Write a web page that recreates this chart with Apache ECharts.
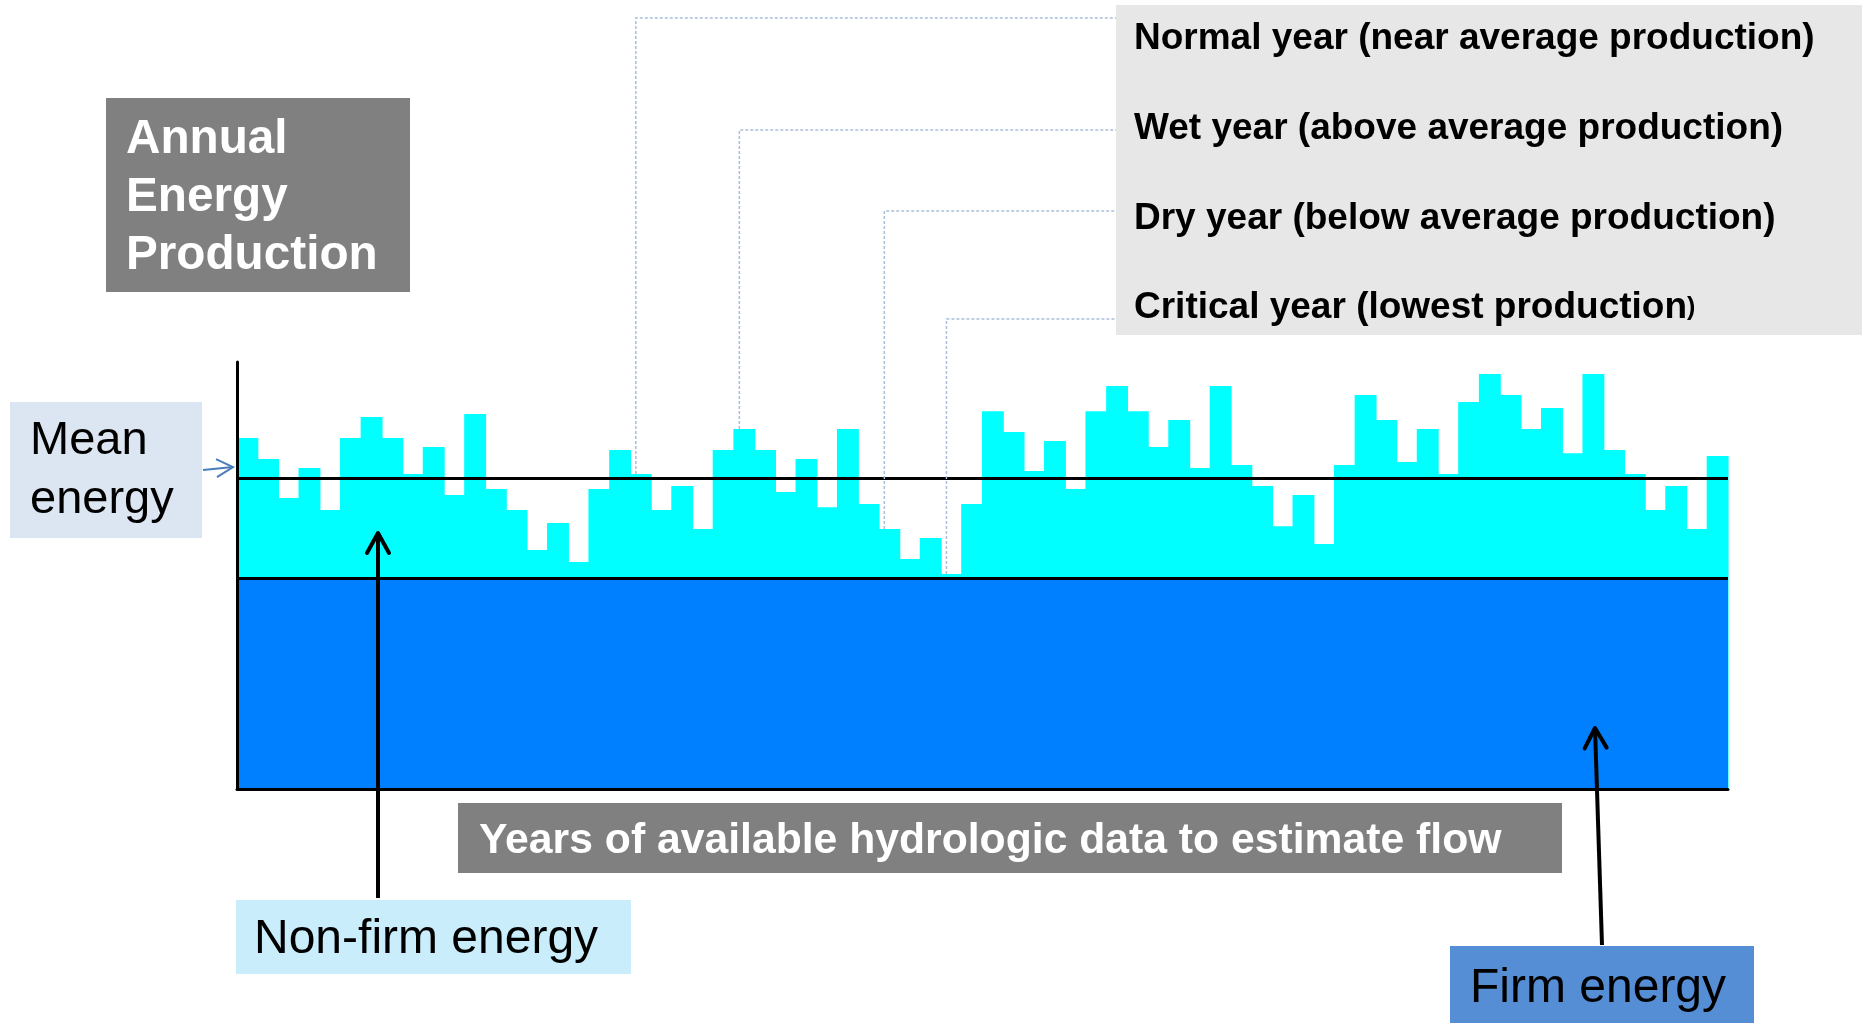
<!DOCTYPE html>
<html>
<head>
<meta charset="utf-8">
<title>Annual Energy Production</title>
<script src="https://cdn.jsdelivr.net/npm/echarts@6/dist/echarts.min.js"></script>
<style>
  html, body { margin: 0; padding: 0; background: #fff; }
  #chart { width: 1862px; height: 1023px; }
</style>
</head>
<body>
<div id="chart"></div>
<script>
// total annual energy per year of hydrologic record (arbitrary units, firm = 100)
const totalEnergy = [
  166.4, 156.4, 137.9, 152.1, 132.2, 166.4, 176.3, 166.4, 149.3, 162.1,
  139.3, 177.7, 142.2, 132.2, 113.3, 126.1, 107.6, 142.2, 160.7, 149.3,
  132.2, 143.6, 123.2, 160.7, 170.6, 160.7, 140.8, 156.4, 133.6, 170.6,
  135.1, 123.2, 109.0, 119.0, 101.9, 135.1, 179.1, 169.2, 150.7, 164.9,
  142.2, 179.1, 191.0, 179.1, 162.1, 174.9, 152.1, 191.0, 153.6, 143.6,
  124.6, 139.3, 116.1, 153.6, 186.7, 174.9, 155.0, 170.6, 149.3, 183.4,
  196.7, 186.7, 170.6, 180.6, 159.2, 196.7, 160.7, 149.3, 132.2, 143.6,
  123.2, 157.8
];
const FIRM_ENERGY = 100;
const MEAN_ENERGY = 147.4;
const Y_MAX = 202.4;

const yearLabels = totalEnergy.map(function (v, i) { return String(i + 1); });

// example years pointed at by the legend on the top right
const yearTypes = [
  "Normal year (near average production)",
  "Wet year (above average production)",
  "Dry year (below average production)",
  "Critical year (lowest production"
];
const yearTypeIndex = [19, 24, 31, 34];

const FONT = '"Liberation Sans", Arial, sans-serif';

let chart = echarts.init(document.getElementById("chart"));
chart.setOption({
  animation: false,
  grid: { left: 237, right: 134, top: 362, bottom: 234 },
  xAxis: {
    type: "category",
    data: yearLabels,
    z: 10,
    axisLine: { show: true, onZero: false, lineStyle: { color: "#000", width: 3 } },
    axisTick: { show: false },
    axisLabel: { show: false },
    splitLine: { show: false }
  },
  yAxis: {
    type: "value",
    min: 0,
    max: Y_MAX,
    z: 10,
    axisLine: { show: true, lineStyle: { color: "#000", width: 3 } },
    axisTick: { show: false },
    axisLabel: { show: false },
    splitLine: { show: false }
  },
  series: [
    {
      // bars touch each other; drawn a bit wider than the band so no seams show
      type: "custom",
      name: "Annual energy",
      data: totalEnergy.map(function (v, i) { return [i, v]; }),
      encode: { x: 0, y: 1 },
      silent: true,
      renderItem: function (params, api) {
        let top = api.coord([api.value(0), api.value(1)]);
        let base = api.coord([api.value(0), 0]);
        let w = api.size([1, 0])[0];
        return {
          type: "rect",
          shape: { x: top[0] - w / 2 - 0.6, y: top[1], width: w + 1.2, height: base[1] - top[1] },
          style: { fill: "#00FFFF" }
        };
      },
      // firm energy: the part every year can deliver
      markArea: {
        silent: true,
        z: 4,
        itemStyle: { color: "#0080FF", opacity: 1 },
        label: { show: false },
        emphasis: { disabled: true },
        data: [[{ yAxis: 0 }, { yAxis: FIRM_ENERGY }]]
      },
      markLine: {
        symbol: "none",
        silent: true,
        z: 5,
        label: { show: false },
        lineStyle: { color: "#000", width: 3, type: "solid" },
        emphasis: { disabled: true },
        data: [{ yAxis: MEAN_ENERGY }, { yAxis: FIRM_ENERGY }]
      }
    }
  ]
});

function px(i, v) {
  return chart.convertToPixel({ seriesIndex: 0 }, [i, v]);
}

let elements = [];

// boxes and texts
function box(x, y, w, h, fill) {
  elements.push({ type: "rect", z: 20, shape: { x: x, y: y, width: w, height: h }, style: { fill: fill } });
}
function label(x, y, text, font, fill, extra) {
  let style = { x: x, y: y, text: text, font: font, fill: fill, verticalAlign: "middle" };
  Object.assign(style, extra || {});
  elements.push({ type: "text", z: 21, style: style });
}

box(106, 98, 304, 194, "#808080");
label(126, 111, "Annual\nEnergy\nProduction", "bold 47.7px " + FONT, "#fff", { verticalAlign: "top", lineHeight: 58 });

box(1116, 5, 746, 330, "#E7E7E7");
const legendY = [39, 129, 218.5, 308];
yearTypes.forEach(function (t, k) {
  if (k === 3) {
    elements.push({
      type: "text", z: 21,
      style: {
        x: 1134, y: legendY[k], verticalAlign: "middle",
        text: "{a|" + t + "}{b|)}",
        rich: {
          a: { font: "bold 37px " + FONT, fill: "#000" },
          b: { font: "bold 25px " + FONT, fill: "#000" }
        }
      }
    });
  } else {
    label(1134, legendY[k], t, "bold 37px " + FONT, "#000");
  }
});

box(10, 402, 192, 136, "#DCE6F2");
label(30, 412, "Mean\nenergy", "47px " + FONT, "#000", { verticalAlign: "top", lineHeight: 59 });

box(458, 803, 1104, 70, "#808080");
label(479, 841.5, "Years of available hydrologic data to estimate flow", "bold 42.7px " + FONT, "#fff");

box(236, 900, 395, 74, "#C9EDFA");
label(254, 940, "Non-firm energy", "48px " + FONT, "#000");

box(1450, 946, 304, 77, "#558ED5");
label(1470, 988.5, "Firm energy", "48px " + FONT, "#000");

// dashed leader lines from the legend to example years
const leaderY = [18, 130, 211, 319];
yearTypeIndex.forEach(function (idx, k) {
  let p = px(idx, totalEnergy[idx]);
  let x = p[0] - 5;
  elements.push({
    type: "polyline", z: 15,
    shape: { points: [[x, p[1]], [x, leaderY[k]], [1116, leaderY[k]]] },
    style: { stroke: "#A9BEDB", lineWidth: 1.5, lineDash: [3, 2], fill: null }
  });
});

// arrow from the mean energy box to the mean line
let my = px(0, MEAN_ENERGY)[1] - 10;
elements.push({
  type: "polyline", z: 15,
  shape: { points: [[203, my + 2], [233, my - 1]] },
  style: { stroke: "#4A7EBB", lineWidth: 2, fill: null }
});
elements.push({
  type: "polyline", z: 15,
  shape: { points: [[216, my - 9], [233, my - 1], [217, my + 9]] },
  style: { stroke: "#4A7EBB", lineWidth: 2, fill: null }
});

// black pointer arrows
function arrow(x0, y0, x1, y1) {
  let dx = x1 - x0, dy = y1 - y0;
  let len = Math.sqrt(dx * dx + dy * dy);
  let ux = dx / len, uy = dy / len;
  let bx = x1 - ux * 20, by = y1 - uy * 20;
  elements.push({
    type: "polyline", z: 30,
    shape: { points: [[x0, y0], [x1, y1]] },
    style: { stroke: "#000", lineWidth: 4, fill: null }
  });
  elements.push({
    type: "polyline", z: 30,
    shape: { points: [[bx - uy * 11, by + ux * 11], [x1, y1], [bx + uy * 11, by - ux * 11]] },
    style: { stroke: "#000", lineWidth: 4, fill: null, lineJoin: "round", lineCap: "round" }
  });
}
arrow(378, 898, 378, 533);
arrow(1602, 945, 1595, 728);

chart.setOption({ graphic: { elements: elements } });
</script>
</body>
</html>
